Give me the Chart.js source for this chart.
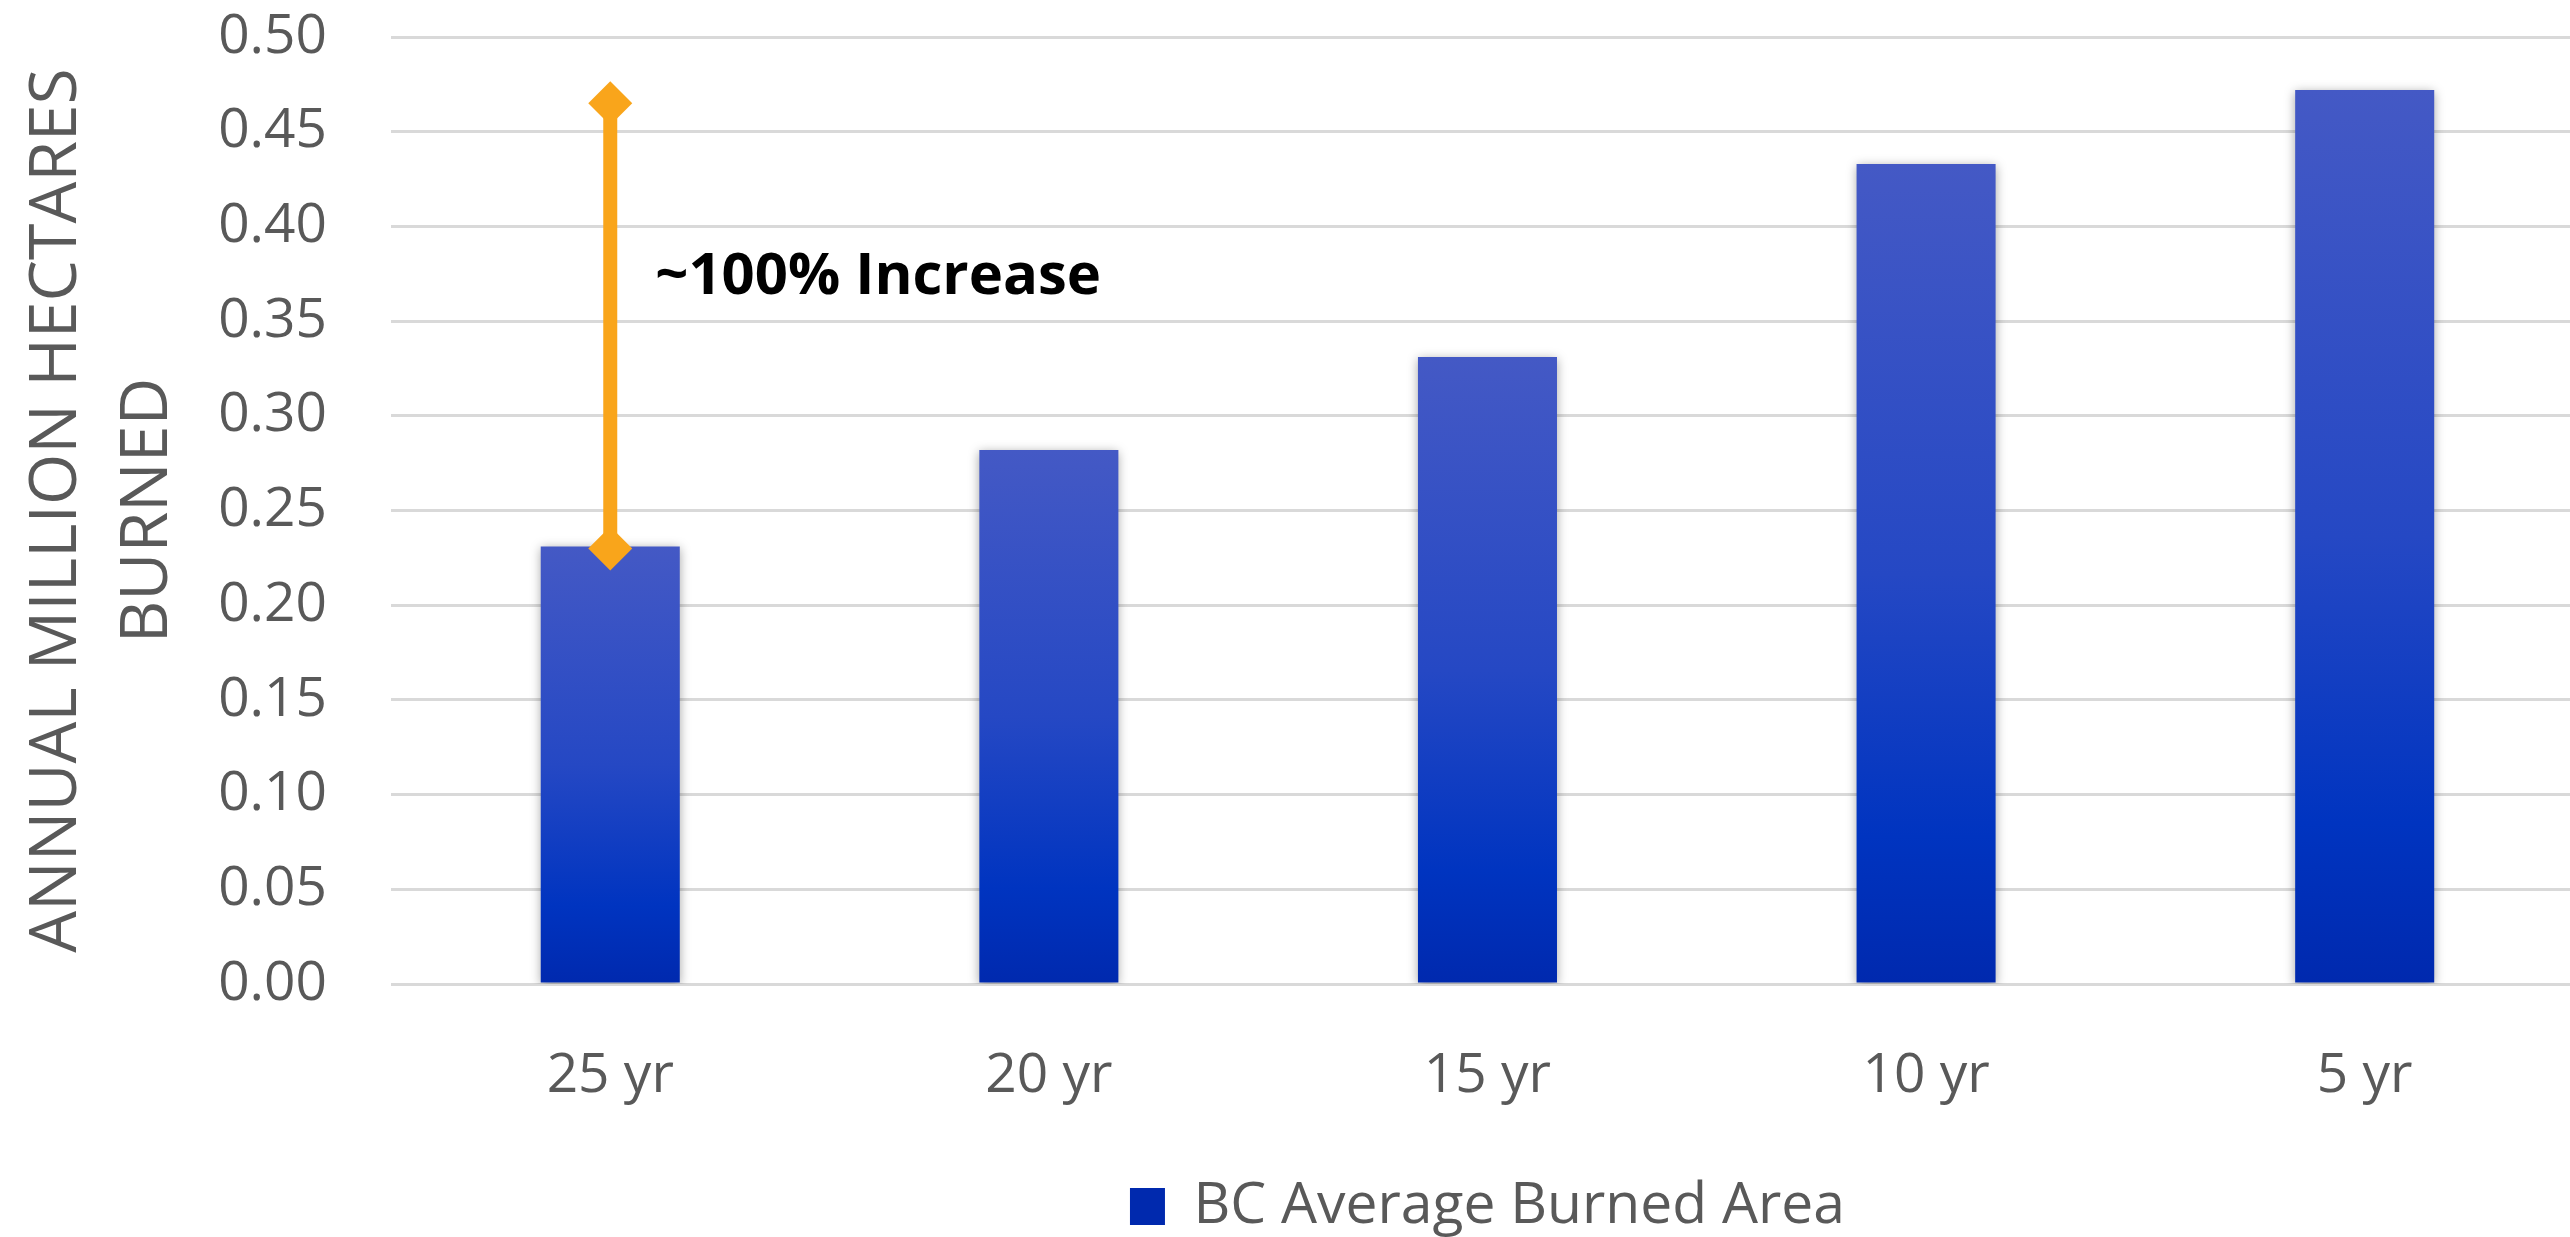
<!DOCTYPE html>
<html>
<head>
<meta charset="utf-8">
<script src="https://cdn.jsdelivr.net/npm/chart.js@4.4.0/dist/chart.umd.min.js"></script>
<style>
  html, body { margin: 0; padding: 0; overflow: hidden; background: #fff; }
  canvas { display: block; }
</style>
</head>
<body>
<canvas id="grafica" width="2606" height="1237"></canvas>
<script>
// datos
const periodos = ['25 yr', '20 yr', '15 yr', '10 yr', '5 yr'];
const areaQuemada = [0.231, 0.282, 0.331, 0.433, 0.472];
const flechaDesde = 0.23;
const flechaHasta = 0.465;
const textoFlecha = '~100% Increase';
const textoFlechaEn = 0.373;
const ticksY = [0, 0.5, 0.05];
const tituloEje = ['ANNUAL MILLION HECTARES', 'BURNED'];
const nombreSerie = 'BC Average Burned Area';

const gris = '#595959';
const naranja = '#F9A51B';
const transparente = 'rgba(0,0,0,0)';

function degradado(context) {
  if (context.type !== 'data') return '#2444C2';
  const chart = context.chart;
  const y = chart.scales.y;
  if (!y) return '#2444C2';
  const arriba = y.getPixelForValue(context.raw);
  const abajo = y.getPixelForValue(0);
  if (!isFinite(arriba) || !isFinite(abajo) || arriba === abajo) return '#2444C2';
  const g = chart.ctx.createLinearGradient(0, arriba, 0, abajo);
  g.addColorStop(0, '#4459C5');
  g.addColorStop(0.5, '#2548C4');
  g.addColorStop(0.82, '#0034C0');
  g.addColorStop(1, '#0029AE');
  return g;
}

const sombra = {
  id: 'sombra',
  beforeDatasetDraw(chart, args) {
    if (args.index !== 0) return;
    const ctx = chart.ctx;
    ctx.save();
    ctx.shadowColor = 'rgba(0,0,0,0.35)';
    ctx.shadowBlur = 10;
    ctx.shadowOffsetX = 0;
    ctx.shadowOffsetY = 2;
  },
  afterDatasetDraw(chart, args) {
    if (args.index !== 0) return;
    chart.ctx.restore();
  }
};

const etiqueta = {
  id: 'etiqueta',
  afterDatasetsDraw(chart) {
    const ctx = chart.ctx;
    const x = chart.scales.x.getPixelForValue(0) + 45;
    const y = chart.scales.y.getPixelForValue(textoFlechaEn);
    ctx.save();
    ctx.font = 'bold 58px "Open Sans"';
    ctx.fillStyle = '#000';
    ctx.textAlign = 'left';
    ctx.textBaseline = 'middle';
    ctx.fillText(textoFlecha, x, y);
    ctx.restore();
  }
};

const ctx = document.getElementById('grafica').getContext('2d');
const chart = new Chart(ctx, {
  data: {
    labels: periodos,
    datasets: [
      {
        type: 'bar',
        label: nombreSerie,
        data: areaQuemada,
        backgroundColor: degradado,
        borderWidth: 0,
        categoryPercentage: 1,
        barPercentage: 0.317,
        order: 1
      },
      {
        type: 'line',
        label: 'flecha',
        data: [{ x: periodos[0], y: flechaDesde }, { x: periodos[0], y: flechaHasta }],
        borderColor: naranja,
        borderWidth: 14,
        pointStyle: 'rectRot',
        pointRadius: 22,
        pointBackgroundColor: naranja,
        pointBorderWidth: 0,
        order: 0
      }
    ]
  },
  options: {
    responsive: false,
    animation: false,
    devicePixelRatio: 1,
    layout: { padding: { left: 0, right: 0, top: 3, bottom: -8 } },
    plugins: {
      tooltip: { enabled: false },
      legend: {
        position: 'bottom',
        fullSize: false,
        labels: {
          filter: (item) => item.datasetIndex === 0,
          boxWidth: 35,
          boxHeight: 37,
          padding: 65,
          color: gris,
          font: { family: 'Open Sans', size: 57 }
        }
      }
    },
    scales: {
      x: {
        grid: { display: true, drawOnChartArea: false, color: transparente, tickColor: transparente, tickLength: 55 },
        border: { display: false },
        ticks: { color: gris, padding: 4, font: { family: 'Open Sans', size: 55 } }
      },
      y: {
        min: ticksY[0],
        max: ticksY[1],
        grid: { color: '#D9D9D9', lineWidth: 3, tickColor: transparente, tickLength: 60 },
        border: { display: false },
        ticks: {
          stepSize: ticksY[2],
          color: gris,
          padding: 4,
          font: { family: 'Open Sans', size: 55 },
          callback: (v) => v.toFixed(2)
        },
        title: {
          display: true,
          text: tituloEje,
          color: gris,
          padding: { top: 12, bottom: 20 },
          font: { family: 'Open Sans', size: 66, lineHeight: 1.38 }
        }
      }
    }
  },
  plugins: [sombra, etiqueta]
});
</script>
</body>
</html>
